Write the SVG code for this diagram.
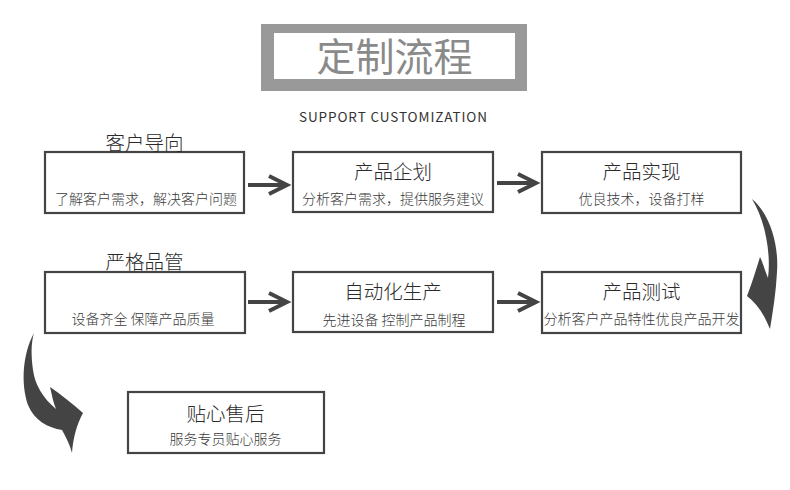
<svg xmlns="http://www.w3.org/2000/svg" xmlns:xlink="http://www.w3.org/1999/xlink" width="790" height="490" viewBox="0 0 790 490">
<style>
text{font-family:"Noto Sans CJK SC","Liberation Sans",sans-serif;fill:#333;text-anchor:middle;font-weight:300}
.box{fill:#fff;stroke:#444;stroke-width:2.2}
.t{font-size:19.5px;fill:#2a2a2a}
.s{font-size:14px;fill:#3a3a3a}
.arr{fill:none;stroke:#444;stroke-width:4}
.curve{fill:#444;stroke:none}
</style>
<defs>
<g id="sa"><path class="arr" d="M0,0 H38 M21,-9 L39,0 L21,9"/></g>
</defs>
<rect width="790" height="490" fill="#fff"/>
<g id="header">
<rect x="261" y="24" width="266" height="67" fill="#999"/>
<rect x="274" y="33" width="241" height="46" fill="#fff"/>
<text x="394.5" y="71" style="font-size:39px;fill:#8a8a8a;font-weight:400">定制流程</text>
<text x="393" y="122" style="font-size:13.5px;font-weight:400" textLength="188">SUPPORT CUSTOMIZATION</text>
</g>
<g id="n1">
<rect class="box" x="45" y="152" width="199" height="61"/>
<text class="t" x="144.5" y="149.5">客户导向</text>
<text class="s" x="146" y="203.5">了解客户需求，解决客户问题</text>
</g>
<g id="n2">
<rect class="box" x="293" y="152" width="200" height="60"/>
<text class="t" x="393" y="179">产品企划</text>
<text class="s" x="393" y="203.5">分析客户需求，提供服务建议</text>
</g>
<g id="n3">
<rect class="box" x="542" y="152" width="199" height="61"/>
<text class="t" x="641.5" y="179">产品实现</text>
<text class="s" x="641.5" y="204">优良技术，设备打样</text>
</g>
<g id="n4">
<rect class="box" x="45" y="272" width="200" height="61"/>
<text class="t" x="144.5" y="269">严格品管</text>
<text class="s" x="143" y="323.5">设备齐全 保障产品质量</text>
</g>
<g id="n5">
<rect class="box" x="293" y="272" width="200" height="60"/>
<text class="t" x="393" y="298.5">自动化生产</text>
<text class="s" x="394" y="325">先进设备 控制产品制程</text>
</g>
<g id="n6">
<rect class="box" x="542" y="272" width="199" height="61"/>
<text class="t" x="641.5" y="299">产品测试</text>
<text class="s" x="641.5" y="323.5">分析客户产品特性优良产品开发</text>
</g>
<g id="n7">
<rect class="box" x="128" y="392" width="196" height="61"/>
<text class="t" x="225.5" y="420.5">贴心售后</text>
<text class="s" x="225.5" y="444">服务专员贴心服务</text>
</g>
<g id="connectors">
<use xlink:href="#sa" transform="translate(248,185)"/>
<use xlink:href="#sa" transform="translate(497,183)"/>
<use xlink:href="#sa" transform="translate(248,302)"/>
<use xlink:href="#sa" transform="translate(497,302)"/>
<path class="curve" d="M752,199 C770,214 779,245 777,272 C776,292 773,310 770,329 C764,314 757,304 747,296 C752,283 756,270 760,257 C763,263 765,271 768,278 C771,255 766,222 752,199 Z"/>
<path class="curve" d="M34,333 C22,355 21,385 28,405 C34,420 48,428 62,430 C66,437 70,445 72,453 C73,438 77,424 83,413 C72,403 60,394 50,387 C52,395 53,402 56,409 C43,398 35,385 33,370 C31,355 31,343 34,333 Z"/>
</g>
</svg>
